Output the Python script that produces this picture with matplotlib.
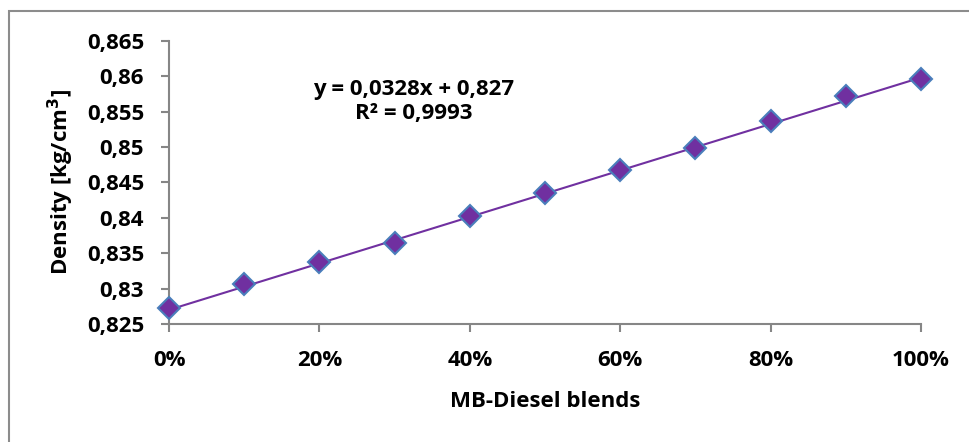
import matplotlib.pyplot as plt
from matplotlib.patches import Rectangle
from matplotlib.ticker import FuncFormatter
import numpy as np

# MB share in the diesel blend and measured density
blend = [0.0, 0.1, 0.2, 0.3, 0.4, 0.5, 0.6, 0.7, 0.8, 0.9, 1.0]
density = [0.8273, 0.8306, 0.8337, 0.8365, 0.8402, 0.8435,
           0.8467, 0.8499, 0.8536, 0.8572, 0.8596]

# linear trendline as reported on the chart
slope = 0.0328
intercept = 0.827
r2 = 0.9993

yticks = [0.825, 0.83, 0.835, 0.84, 0.845, 0.85, 0.855, 0.86, 0.865]
xticks = [0.0, 0.2, 0.4, 0.6, 0.8, 1.0]

plt.rcParams['font.family'] = ['Open Sans', 'DejaVu Sans']
plt.rcParams['font.weight'] = 'bold'
FS = 16

W, H = 969, 442
fig = plt.figure(figsize=(W / 100, H / 100), dpi=100)

# chart area border (runs off the right and bottom edges)
fig.patches.append(Rectangle((9 / W, -0.1), 1.2, 1 - 11 / H + 0.1,
                             transform=fig.transFigure, fill=False,
                             edgecolor='#8c8c8c', linewidth=1.5))

ax = fig.add_axes([169 / W, 1 - 324 / H, (921 - 169) / W, (324 - 40.7) / H])

xs = np.array([0.0, 1.0])
ax.plot(xs, slope * xs + intercept, color='#7030A0', linewidth=1.5, zorder=2)
ax.plot(blend, density, linestyle='none', marker='D', markersize=11,
        markerfacecolor='#7030A0', markeredgecolor='#4A7EBB',
        markeredgewidth=1.5, zorder=3, clip_on=False)

ax.set_xlim(0, 1)
ax.set_ylim(0.825, 0.865)
ax.set_xticks(xticks)
ax.set_yticks(yticks)
ax.xaxis.set_major_formatter(FuncFormatter(lambda v, p: f'{v * 100:.0f}%'))
ax.yaxis.set_major_formatter(
    FuncFormatter(lambda v, p: f'{v:.3f}'.rstrip('0').replace('.', ',')))

for side in ['top', 'right']:
    ax.spines[side].set_visible(False)
for side in ['left', 'bottom']:
    ax.spines[side].set_color('#868686')
    ax.spines[side].set_linewidth(1.5)
ax.tick_params(axis='both', direction='out', length=6, width=1.5,
               color='#868686', labelsize=FS, labelcolor='black')
ax.tick_params(axis='x', pad=13)
ax.tick_params(axis='y', pad=12)
for lab in ax.get_xticklabels() + ax.get_yticklabels():
    lab.set_fontweight('bold')

ax.set_xlabel('MB-Diesel blends', fontsize=FS, fontweight='bold',
              labelpad=14)
ax.set_ylabel('Density [kg/cm$^\\mathbf{3}$]', fontsize=FS,
              fontweight='bold', labelpad=8)

ax.text(0.325, 0.829, f'y = {slope:.4f}x + {intercept:.3f}'.replace('.', ','),
        transform=ax.transAxes, ha='center', va='center', fontsize=FS,
        fontweight='bold')
ax.text(0.325, 0.742, f'R² = {r2:.4f}'.replace('.', ','),
        transform=ax.transAxes, ha='center', va='center', fontsize=FS,
        fontweight='bold')

fig.savefig('out.png', dpi=100)
